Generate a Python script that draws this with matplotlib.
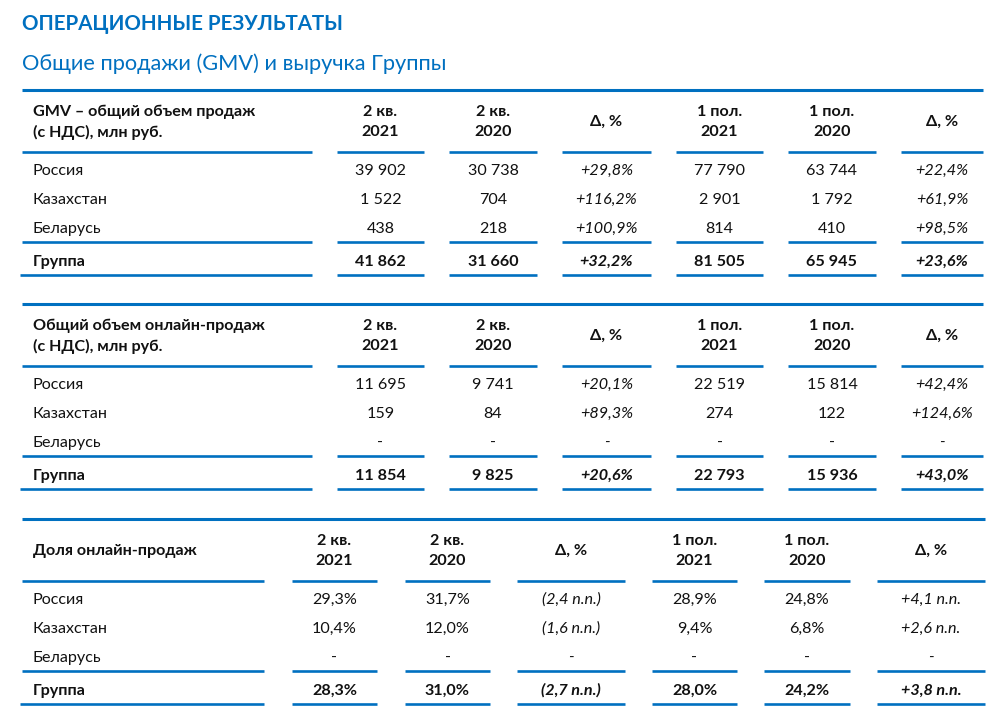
import matplotlib.pyplot as plt

plt.rcParams['font.family'] = ['Lato', 'DejaVu Sans']

title = 'ОПЕРАЦИОННЫЕ РЕЗУЛЬТАТЫ'
subtitle = 'Общие продажи (GMV) и выручка Группы'

col_heads = ['2 кв.\n2021', '2 кв.\n2020', 'Δ, %', '1 пол.\n2021', '1 пол.\n2020', 'Δ, %']
regions = ['Россия', 'Казахстан', 'Беларусь']
total_name = 'Группа'

# table 1: GMV
gmv_head = 'GMV – общий объем продаж\n(с НДС), млн руб.'
gmv_rows = [
    ['39 902', '30 738', '+29,8%', '77 790', '63 744', '+22,4%'],
    ['1 522', '704', '+116,2%', '2 901', '1 792', '+61,9%'],
    ['438', '218', '+100,9%', '814', '410', '+98,5%'],
]
gmv_total = ['41 862', '31 660', '+32,2%', '81 505', '65 945', '+23,6%']

# table 2: online GMV
online_head = 'Общий объем онлайн-продаж\n(с НДС), млн руб.'
online_rows = [
    ['11 695', '9 741', '+20,1%', '22 519', '15 814', '+42,4%'],
    ['159', '84', '+89,3%', '274', '122', '+124,6%'],
    ['-', '-', '-', '-', '-', '-'],
]
online_total = ['11 854', '9 825', '+20,6%', '22 793', '15 936', '+43,0%']

# table 3: online share
share_head = 'Доля онлайн-продаж'
share_rows = [
    ['29,3%', '31,7%', '(2,4 п.п.)', '28,9%', '24,8%', '+4,1 п.п.'],
    ['10,4%', '12,0%', '(1,6 п.п.)', '9,4%', '6,8%', '+2,6 п.п.'],
    ['-', '-', '-', '-', '-', '-'],
]
share_total = ['28,3%', '31,0%', '(2,7 п.п.)', '28,0%', '24,2%', '+3,8 п.п.']

BLUE = '#0070C0'
INK = '#111111'
FS = 11.6

fig = plt.figure(figsize=(9.99, 7.19), dpi=100)
ax = fig.add_axes([0, 0, 1, 1])
ax.set_xlim(0, 999)
ax.set_ylim(719, 0)
ax.axis('off')

ax.text(22, 30, title, color=BLUE, fontsize=14.8, fontweight='bold', va='baseline')
ax.text(22, 70, subtitle, color=BLUE, fontsize=15.7, va='baseline')


def draw_table(top, head, rows, total, label_end, starts, ends, right):
    ax.plot([22, right], [top, top], color=BLUE, lw=2.2, solid_capstyle='butt')
    mid = top + 32
    ax.text(33, mid, head, fontsize=FS, fontweight='bold', color=INK,
            va='center', linespacing=1.5)
    centers = [(s + e) / 2 for s, e in zip(starts, ends)]
    for cx, h in zip(centers, col_heads):
        ax.text(cx, mid, h, fontsize=FS, fontweight='bold', color=INK,
                ha='center', va='center', linespacing=1.5, multialignment='center')

    def seps(y, x0=22):
        ax.plot([x0, label_end], [y, y], color=BLUE, lw=1.9, solid_capstyle='butt')
        for s, e in zip(starts, ends):
            ax.plot([s, e], [y, y], color=BLUE, lw=1.9, solid_capstyle='butt')

    seps(top + 62)
    row_y = [top + 79, top + 108, top + 137]
    for y, name, vals in zip(row_y, regions, rows):
        ax.text(33, y + 5.8, name, fontsize=FS, color=INK, va='baseline')
        for i, (cx, v) in enumerate(zip(centers, vals)):
            style = 'italic' if i in (2, 5) else 'normal'
            ax.text(cx, y + 5.8, v, fontsize=FS, color=INK, ha='center',
                    va='baseline', fontstyle=style)
    seps(top + 152)
    gy = top + 170
    ax.text(33, gy + 5.8, total_name, fontsize=FS, fontweight='bold', color=INK, va='baseline')
    for i, (cx, v) in enumerate(zip(centers, total)):
        style = 'italic' if i in (2, 5) else 'normal'
        ax.text(cx, gy + 5.8, v, fontsize=FS, fontweight='bold', color=INK,
                ha='center', va='baseline', fontstyle=style)
    seps(top + 185, x0=20)


starts12 = [337, 449, 562, 676, 788, 901]
ends12 = [424, 537, 651, 763, 876, 983]
draw_table(90, gmv_head, gmv_rows, gmv_total, 312, starts12, ends12, 983)
draw_table(304, online_head, online_rows, online_total, 312, starts12, ends12, 983)

starts3 = [292, 405, 517, 652, 764, 877]
ends3 = [377, 490, 625, 737, 850, 985]
draw_table(519, share_head, share_rows, share_total, 264, starts3, ends3, 985)

fig.savefig('out.png', dpi=100)
